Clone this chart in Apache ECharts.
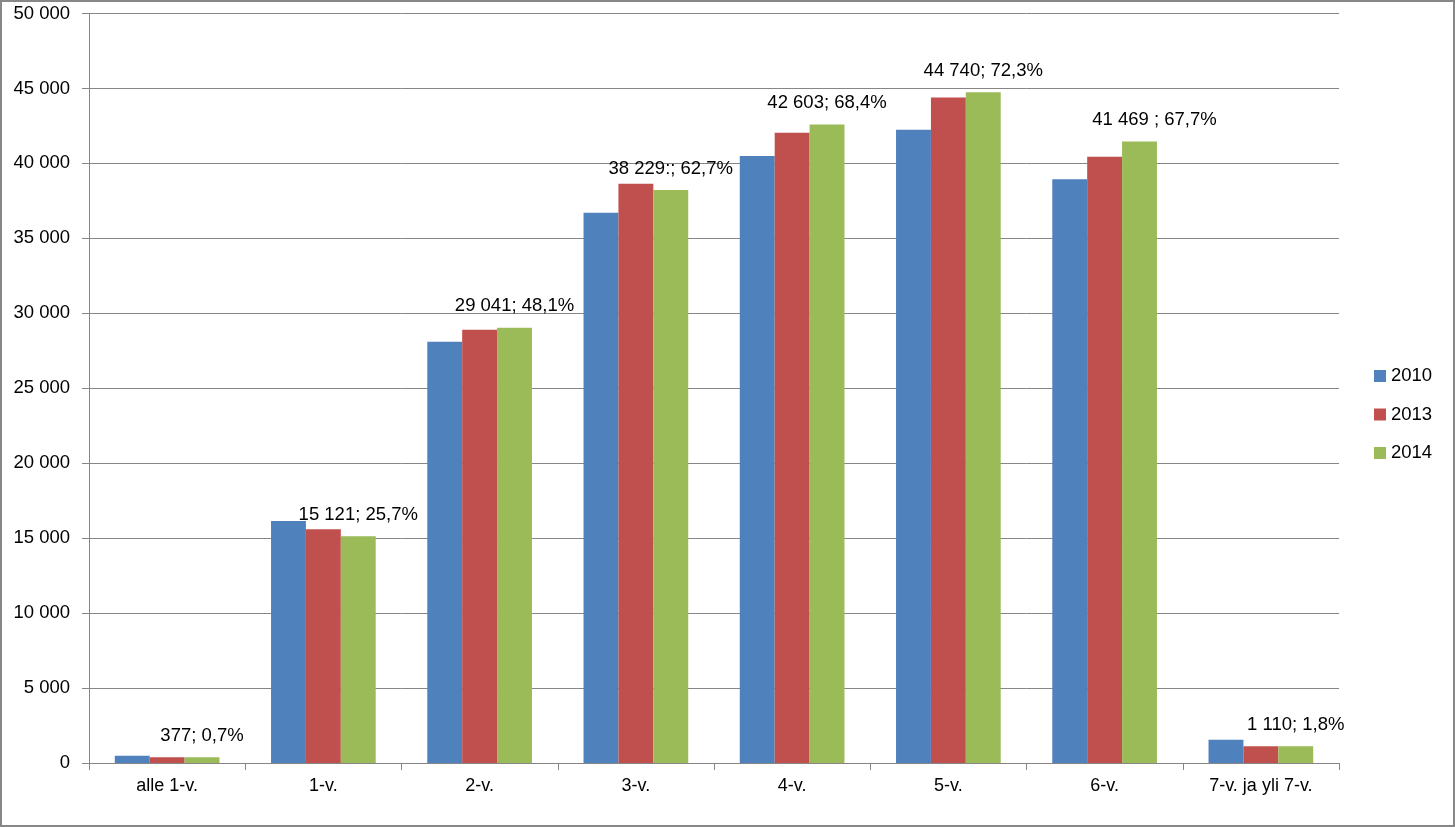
<!DOCTYPE html>
<html>
<head>
<meta charset="utf-8">
<script src="https://cdn.jsdelivr.net/npm/echarts@6/dist/echarts.min.js"></script>
<style>
html,body{margin:0;padding:0;background:#fff;}
#chart{width:1455px;height:827px;}
</style>
</head>
<body>
<div id="chart"></div>
<script>
var categories = ['alle 1-v.', '1-v.', '2-v.', '3-v.', '4-v.', '5-v.', '6-v.', '7-v. ja yli 7-v.'];
var seriesNames = ['2010', '2013', '2014'];
var values2010 = [490, 16150, 28100, 36700, 40500, 42250, 38950, 1555];
var values2013 = [380, 15600, 28900, 38650, 42050, 44400, 40450, 1110];
var values2014 = [377, 15121, 29041, 38229, 42603, 44740, 41469, 1110];
var labels2014 = ['377; 0,7%', '15 121; 25,7%', '29 041; 48,1%', '38 229:; 62,7%', '42 603; 68,4%', '44 740; 72,3%', '41 469 ; 67,7%', '1 110; 1,8%'];
var labelOffsetX = [0, 0, 0, 0, 0, 0, 15, 0];
var yTicks = { min: 0, max: 50000, interval: 5000 };

var colors = ['#4F81BD', '#C0504D', '#9BBB59'];
var font = 'Liberation Sans, Arial, sans-serif';

function fmt(v) {
  var s = String(v);
  return s.replace(/\B(?=(\d{3})+(?!\d))/g, ' ');
}

var chart = echarts.init(document.getElementById('chart'), null, { renderer: 'canvas' });

var data2014 = values2014.map(function (v, i) {
  return {
    value: v,
    label: {
      show: true,
      position: 'top',
      distance: 12,
      offset: [labelOffsetX[i], 0],
      formatter: labels2014[i],
      color: '#000',
      fontSize: 18.5,
      lineHeight: 19,
      fontFamily: font
    }
  };
});

var option = {
  animation: false,
  backgroundColor: '#fff',
  color: colors,
  graphic: [{
    type: 'rect',
    shape: { x: 1, y: 1, width: 1453, height: 825 },
    style: { fill: 'none', stroke: '#878787', lineWidth: 2 },
    z: 100
  }],
  grid: { left: 89, right: 116, top: 13.5, bottom: 64, containLabel: false },
  legend: {
    orient: 'vertical',
    left: 1374,
    top: 366.5,
    padding: 0,
    itemWidth: 12,
    itemHeight: 12,
    itemGap: 19.5,
    icon: 'rect',
    data: seriesNames,
    textStyle: { color: '#000', fontSize: 18.5, lineHeight: 18, fontFamily: font }
  },
  xAxis: {
    type: 'category',
    data: categories,
    axisLine: { show: true, lineStyle: { color: '#868686', width: 1 } },
    axisTick: { show: true, length: 7, lineStyle: { color: '#868686' } },
    axisLabel: { color: '#000', fontSize: 18, fontFamily: font, margin: 14, interval: 0 },
    splitLine: { show: false }
  },
  yAxis: {
    type: 'value',
    min: yTicks.min,
    max: yTicks.max,
    interval: yTicks.interval,
    axisLine: { show: true, lineStyle: { color: '#868686', width: 1 } },
    axisTick: { show: true, length: 7, lineStyle: { color: '#868686' } },
    axisLabel: { color: '#000', fontSize: 18.5, fontFamily: font, margin: 19, formatter: fmt },
    splitLine: { show: true, lineStyle: { color: '#868686', width: 1 } }
  },
  series: [
    { name: seriesNames[0], type: 'bar', data: values2010, barGap: '0%', barCategoryGap: '33%' },
    { name: seriesNames[1], type: 'bar', data: values2013, barGap: '0%', barCategoryGap: '33%' },
    { name: seriesNames[2], type: 'bar', data: data2014, barGap: '0%', barCategoryGap: '33%' }
  ]
};

chart.setOption(option);
</script>
</body>
</html>
